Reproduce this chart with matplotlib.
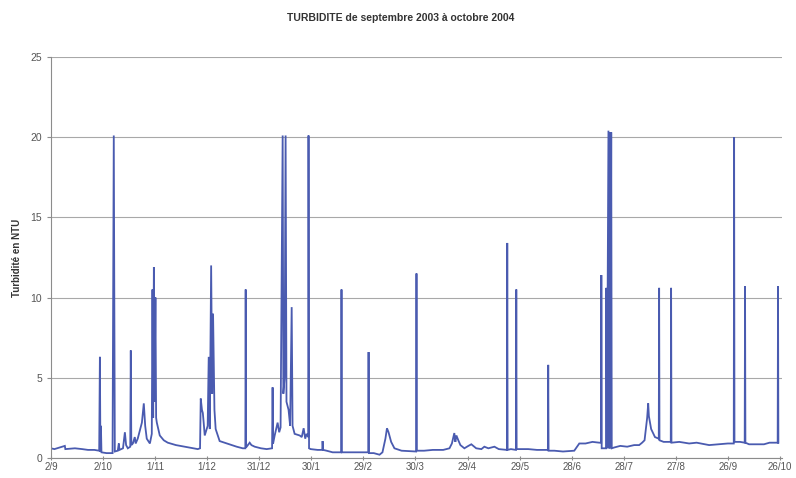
import matplotlib
matplotlib.use("Agg")
import matplotlib.pyplot as plt

plt.rcParams['font.family'] = ['Liberation Sans', 'DejaVu Sans']

# Turbidity record, days counted from 2 September 2003
days = [
    0, 2, 8.0, 8.3, 13.8, 18, 21.3, 25, 27.8, 28.2, 28.5, 28.8, 29.1, 32, 35.5,
    36.2, 36.8, 38.5, 39.1, 39.5, 41.5, 42.6, 43.3, 44.3, 45.7, 46.0, 46.3, 47.2,
    48.3, 48.8, 50, 51.2, 52.4, 53.5, 54.3, 55.2, 57.0, 58.1, 58.5, 58.9, 59.3,
    59.7, 60.2, 60.6, 61.0, 62.7, 65, 67.3, 72, 77.1, 84.6, 85.9, 86.3, 87.0,
    87.5, 88.0, 88.6, 90.3, 90.9, 91.5, 92.3, 92.9, 93.4, 94.2, 94.9, 97.2, 100,
    103.0, 107, 110.5, 112.0, 112.2, 112.4, 114.5, 115.5, 117.4, 121, 124.3,
    127.4, 127.7, 128.0, 128.9, 130.6, 131.5, 132.3, 133.5, 133.9, 134.6, 135.2,
    135.7, 136.9, 137.8, 138.7, 139.2, 140.4, 143.3, 144.5, 145.6, 146.5, 147.3,
    148.2, 148.4, 148.7, 149.6, 153.6, 156.3, 156.5, 156.8, 158.8, 162.3, 167.2,
    167.4, 167.6, 175, 182.8, 183.0, 183.2, 186, 189.3, 191, 192.7, 193.6, 194.5,
    196, 197.9, 202, 210.4, 210.6, 210.8, 215, 220, 226, 229.6, 231, 232.4, 233,
    233.6, 234.7, 235.9, 238.2, 240.5, 242.2, 245, 248, 249.7, 252, 255.5, 258,
    262.7, 262.9, 263.1, 265, 267.9, 268.1, 268.3, 275, 280, 286.3, 286.5, 286.7,
    290, 295, 301.5, 304.4, 308, 312, 315.9, 317.0, 317.1, 317.3, 319.8, 320.0,
    320.3, 321.2, 321.5, 322.0, 322.3, 322.8, 323.1, 324.5, 328, 332, 336, 338.9,
    340.6, 342, 343.5, 344.1, 344.5, 345.8, 348, 350.2, 350.4, 350.6, 353, 357.1,
    357.3, 357.5, 362, 367.7, 372, 379.2, 384.9, 390, 393.4, 393.6, 393.8, 397,
    399.7, 399.9, 400.1, 402.2, 410.8, 414, 418.7, 418.9, 419.1,
]
ntu = [
    0.6, 0.55, 0.75, 0.55, 0.6, 0.55, 0.5, 0.5, 0.45, 6.3, 0.4, 2.0, 0.35, 0.3, 0.3,
    20.1, 0.4, 0.45, 0.9, 0.5, 0.6, 1.6, 0.8, 0.6, 0.7, 6.7, 0.8, 0.9,
    1.3, 0.9, 1.2, 1.7, 2.2, 3.4, 2.0, 1.2, 0.9, 1.5, 10.5, 2.5, 11.9,
    3.5, 10.0, 2.5, 2.2, 1.4, 1.1, 0.95, 0.8, 0.7, 0.55, 0.6, 3.7, 3.0,
    2.8, 2.2, 1.4, 2.0, 6.3, 1.8, 12.0, 4.0, 9.0, 3.0, 1.8, 1.05, 0.95,
    0.85, 0.7, 0.6, 0.6, 10.5, 0.65, 0.95, 0.8, 0.7, 0.6, 0.55,
    0.6, 4.4, 0.9, 1.4, 2.2, 1.6, 1.9, 20.1, 4.0, 5.0, 20.1,
    3.5, 3.0, 2.0, 9.4, 2.0, 1.5, 1.4, 1.3, 1.85, 1.2, 1.5,
    1.3, 20.1, 0.6, 0.55, 0.5, 0.5, 1.05, 0.5, 0.45, 0.35, 0.35,
    10.5, 0.35, 0.35, 0.35, 6.6, 0.3, 0.3, 0.2, 0.35, 1.2, 1.85, 1.6,
    1.0, 0.6, 0.45, 0.4, 11.5, 0.45, 0.45, 0.5, 0.5, 0.6, 0.9, 1.55, 1.0,
    1.4, 1.1, 0.8, 0.6, 0.75, 0.85, 0.6, 0.55, 0.7, 0.6, 0.7, 0.55,
    0.5, 13.4, 0.5, 0.55, 0.5, 10.5, 0.55, 0.55, 0.5, 0.5, 5.8, 0.45,
    0.45, 0.4, 0.45, 0.9, 0.9, 1.0, 0.95, 0.95, 11.4, 0.6, 0.6, 10.6,
    0.6, 20.4, 0.6, 20.3, 0.6, 20.3, 0.6, 0.65, 0.75, 0.7, 0.8, 0.8,
    0.95, 1.1, 2.5, 3.4, 2.6, 1.8, 1.3, 1.2, 10.6, 1.1, 1.0, 1.0,
    10.6, 0.95, 1.0, 0.9, 0.95, 0.8, 0.85, 0.9, 0.9, 20.0, 1.0, 1.0,
    0.95, 10.7, 0.95, 0.85, 0.85, 0.95, 0.95, 10.7, 0.95,
]

tick_days = [0, 30, 60, 90, 120, 150, 180, 210, 240, 270, 300, 330, 360, 390, 420]
tick_labels = ['2/9', '2/10', '1/11', '1/12', '31/12', '30/1', '29/2', '30/3',
               '29/4', '29/5', '28/6', '28/7', '27/8', '26/9', '26/10']
y_ticks = [0, 5, 10, 15, 20, 25]

fig = plt.figure(figsize=(7.96, 4.78), dpi=100)
ax = fig.add_axes([0.064, 0.042, 0.918, 0.839])

ax.plot(days, ntu, color='#4a5bb0', lw=1.3, solid_joinstyle='miter')

ax.set_xlim(0, 421)
ax.set_ylim(0, 25)
ax.set_yticks(y_ticks)
ax.set_xticks(tick_days)
ax.set_xticklabels(tick_labels)
ax.yaxis.grid(True, color='#a8a8a8', lw=0.8)
ax.set_axisbelow(True)

for side in ('top', 'right'):
    ax.spines[side].set_visible(False)
for side in ('left', 'bottom'):
    ax.spines[side].set_color('#8c8c8c')
    ax.spines[side].set_linewidth(0.8)

ax.tick_params(axis='both', colors='#8c8c8c', labelcolor='#555555',
               labelsize=7.5, length=3, width=0.8)
ax.tick_params(axis='x', direction='inout', pad=1.5, labelsize=7)

ax.set_ylabel('Turbidité en NTU', fontsize=7, fontweight='bold',
              color='#333333', labelpad=6)
fig.text(0.503, 0.962, 'TURBIDITE de septembre 2003 à octobre 2004',
         ha='center', va='center', fontsize=7.5, fontweight='bold',
         color='#333333')

fig.savefig('out.png', dpi=100)
